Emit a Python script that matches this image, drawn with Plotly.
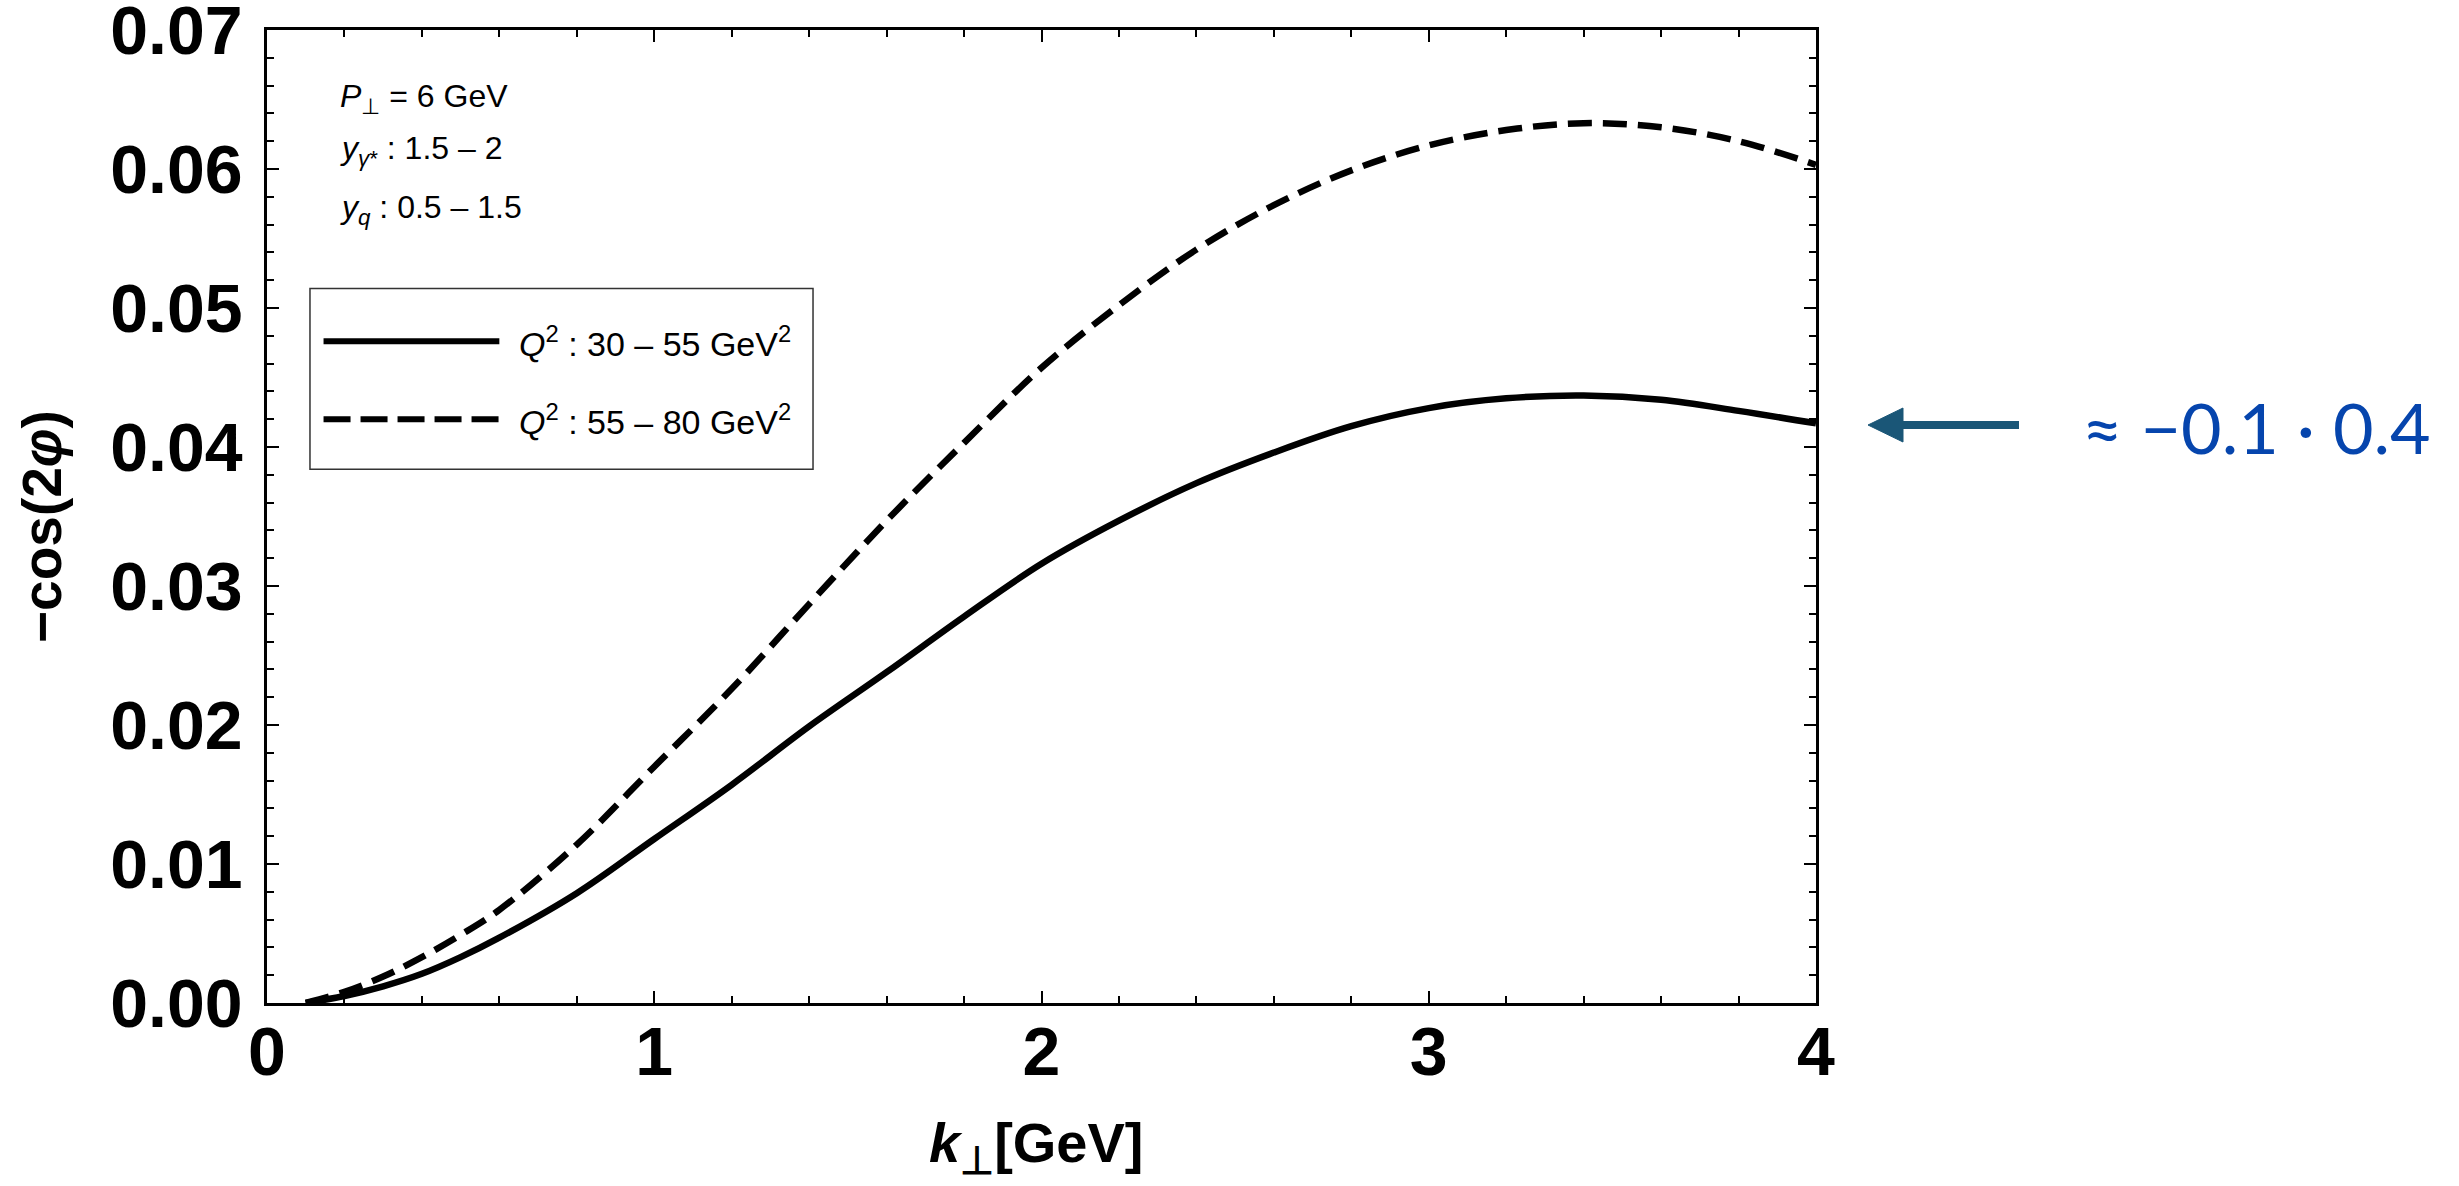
import plotly.graph_objects as go

# ---- data ----
k_perp = [0.1, 0.2, 0.3, 0.4, 0.5, 0.6, 0.8, 1.0, 1.2, 1.4, 1.6, 1.8, 2.0,
          2.2, 2.4, 2.6, 2.8, 3.0, 3.2, 3.4, 3.6, 3.8, 4.0]
q2_30_55 = [0.0000, 0.0005, 0.0012, 0.0021, 0.0033, 0.0047, 0.0079, 0.0118, 0.0157, 0.0199, 0.0238, 0.0278, 0.0316,
            0.0347, 0.0374, 0.0396, 0.0415, 0.0428, 0.0435, 0.0437, 0.0434, 0.0426, 0.0417]
q2_55_80 = [0.0000, 0.0008, 0.0019, 0.0033, 0.0049, 0.0067, 0.0114, 0.0170, 0.0226, 0.0287, 0.0347, 0.0403, 0.0457,
            0.0502, 0.0542, 0.0574, 0.0599, 0.0617, 0.0628, 0.0633, 0.0630, 0.0620, 0.0603]
series_names = ["<i>Q</i><sup>2</sup> : 30 – 55 GeV<sup>2</sup>",
                "<i>Q</i><sup>2</sup> : 55 – 80 GeV<sup>2</sup>"]
info_lines = ["<i>P</i><sub>⊥</sub> = 6 GeV",
              "<i>y</i><sub><i>γ</i>*</sub> : 1.5 – 2",
              "<i>y</i><sub><i>q</i></sub> : 0.5 – 1.5"]
x_ticks = [0, 1, 2, 3, 4]
y_ticks = [0.00, 0.01, 0.02, 0.03, 0.04, 0.05, 0.06, 0.07]

W, H = 2459, 1186
L, R, T, B = 267, 1816, 30, 1003
FONT = "Liberation Sans, Arial, sans-serif"


def px(x):
    return (x - L) / (R - L)


def py(y):
    return (B - y) / (B - T)


fig = go.Figure()
fig.add_trace(go.Scatter(x=k_perp, y=q2_30_55, mode="lines", name=series_names[0],
                         line=dict(color="black", width=6.5, shape="spline", smoothing=1.0),
                         showlegend=False))
fig.add_trace(go.Scatter(x=k_perp, y=q2_55_80, mode="lines", name=series_names[1],
                         line=dict(color="black", width=6.5, dash="24px,11px", shape="spline", smoothing=1.0),
                         showlegend=False))

axis_common = dict(showline=True, linecolor="black", linewidth=2.5, mirror="ticks",
                   ticks="inside", ticklen=12, tickwidth=2, tickcolor="black",
                   showgrid=False, zeroline=False, ticklabeloverflow="allow",
                   tickfont=dict(family=FONT, size=68, color="black", weight="bold"))

fig.update_xaxes(range=[0, 4], tickvals=x_ticks, ticktext=[str(v) for v in x_ticks],
                 minor=dict(dtick=0.2, tick0=0, ticks="inside", ticklen=7, tickwidth=2, tickcolor="black"),
                 ticklabelstandoff=-12, **axis_common)
fig.update_yaxes(range=[0, 0.0700001], tickvals=y_ticks, ticktext=[f"{v:.2f}" for v in y_ticks],
                 minor=dict(dtick=0.002, tick0=0, ticks="inside", ticklen=7, tickwidth=2, tickcolor="black"),
                 ticklabelstandoff=8, **axis_common)

shapes = []
annotations = []

# legend box (data coordinates)
shapes.append(dict(type="rect", xref="x", yref="y", x0=0.111, x1=1.41, y0=0.0384, y1=0.0514,
                   line=dict(color="#333333", width=1.5), fillcolor="white", layer="below"))
leg_rows = [0.0476, 0.0420]
leg_dash = ["solid", "27px,10px"]
for i, yv in enumerate(leg_rows):
    shapes.append(dict(type="line", xref="x", yref="y", x0=0.146, x1=0.600, y0=yv, y1=yv,
                       line=dict(color="black", width=6, dash=leg_dash[i])))
    annotations.append(dict(xref="x", yref="y", x=0.645, y=yv, text=series_names[i], showarrow=False,
                            xanchor="left", yanchor="middle",
                            font=dict(family=FONT, size=34, color="black")))

# info text
for yv, t in zip([0.0651, 0.0613, 0.0571], info_lines):
    annotations.append(dict(xref="x", yref="y", x=0.184, y=yv, text=t, showarrow=False,
                            xanchor="left", yanchor="middle",
                            font=dict(family=FONT, size=32, color="black")))

# axis titles
annotations.append(dict(xref="paper", yref="paper", x=px(42), y=py(527), text="−cos(2<i>φ</i>)",
                        textangle=-90, showarrow=False, xanchor="center", yanchor="middle",
                        font=dict(family=FONT, size=55, color="black", weight="bold")))
annotations.append(dict(xref="paper", yref="paper", x=px(1036), y=py(1146), text="<i>k</i><sub>⊥</sub>[GeV]",
                        showarrow=False, xanchor="center", yanchor="middle",
                        font=dict(family=FONT, size=56, color="black", weight="bold")))

# arrow and side note
arrow_col = "#1A5677"
shapes.append(dict(type="line", xref="paper", yref="paper", x0=px(1898), x1=px(2019), y0=py(425), y1=py(425),
                   line=dict(color=arrow_col, width=8)))
shapes.append(dict(type="path", xref="paper", yref="paper",
                   path=f"M {px(1868)},{py(425)} L {px(1903)},{py(408)} L {px(1903)},{py(442)} Z",
                   line=dict(color=arrow_col, width=1), fillcolor=arrow_col))
annotations.append(dict(xref="paper", yref="paper", x=px(2080), y=py(427), text="≈ −0.1 · 0.4",
                        showarrow=False, xanchor="left", yanchor="middle",
                        font=dict(family="Lato, Noto Sans, sans-serif", size=70, color="#0645AD")))

fig.update_layout(width=W, height=H, margin=dict(l=L, r=W - R, t=T, b=H - B, autoexpand=False),
                  paper_bgcolor="white", plot_bgcolor="white",
                  shapes=shapes, annotations=annotations, showlegend=False)

fig.write_html("out.html")
